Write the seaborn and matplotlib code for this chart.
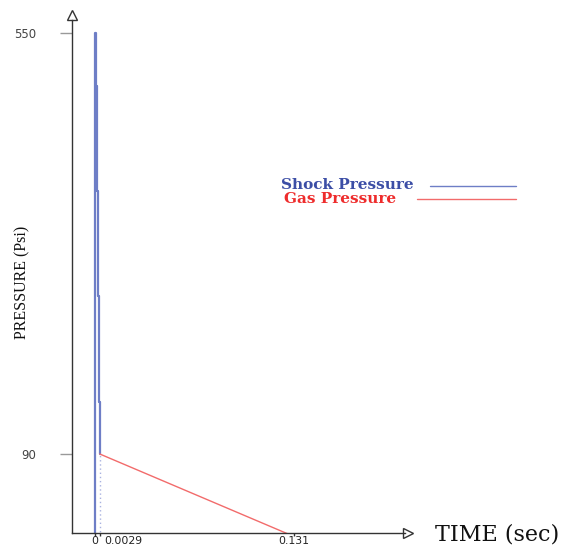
import numpy as np
import pandas as pd
import matplotlib
matplotlib.use("Agg")
import matplotlib.pyplot as plt
from matplotlib.lines import Line2D
from matplotlib.transforms import ScaledTranslation
import seaborn as sns

sns.set_style("white")

# shock pressure: decays in steps from 550 psi down to 90 psi by t = 0.0029 s
shock_time = [0.0, 0.0, 0.0003, 0.0003, 0.0008, 0.0008, 0.0016, 0.0016, 0.0024, 0.0024, 0.0029, 0.0029]
shock_psi = [0, 550, 550, 492, 492, 377, 377, 263, 263, 147, 147, 90]

# gas pressure: linear decay from 90 psi to 0 at t = 0.131 s
gas_time = [0.0029, 0.131]
gas_psi = [90, 0]

xtick_vals = [0, 0.0029, 0.131]
xtick_labels = ["0", "0.0029", "0.131"]
ytick_vals = [90, 550]
ytick_labels = ["90", "550"]

SHOCK = "#6e7ec6"
SHOCK_TXT = "#3c4ea6"
GAS = "#f26b6b"
GAS_TXT = "#ee2c2c"

W, H = 575, 547
fig = plt.figure(figsize=(W / 100, H / 100), dpi=100)
ax = fig.add_axes([72 / W, 1 - 533 / H, (405 - 72) / W, (533 - 20) / H])

shock = pd.DataFrame({"t": shock_time, "p": shock_psi})
gas = pd.DataFrame({"t": gas_time, "p": gas_psi})

sns.lineplot(data=shock, x="t", y="p", sort=False, estimator=None, color=SHOCK, lw=1.6, ax=ax)
sns.lineplot(data=gas, x="t", y="p", sort=False, estimator=None, color=GAS, lw=1.0, ax=ax)
# dotted drop line under the end of the shock phase
ax.plot([gas_time[0], gas_time[0]], [0, gas_psi[0]], color="#a9b2e0", lw=1.0, ls=(0, (1, 2)))

ax.set_xlim(-0.0155, 0.2045)
ax.set_ylim(3.7, 564.3)

for s in ["top", "right"]:
    ax.spines[s].set_visible(False)
for s in ["left", "bottom"]:
    ax.spines[s].set_color("#333333")
    ax.spines[s].set_linewidth(1.0)

ax.set_xticks(xtick_vals)
ax.set_xticklabels(xtick_labels)
ax.set_yticks(ytick_vals)
ax.set_yticklabels(ytick_labels)
ax.tick_params(axis="y", length=9, width=1, color="#999999", labelsize=8.5, labelcolor="#444444", pad=17,
               left=True)
ax.tick_params(axis="x", length=2, width=1, color="#333333", labelsize=7.8, labelcolor="#222222", pad=0.5,
               bottom=True)
for lab in ax.get_xticklabels() + ax.get_yticklabels():
    lab.set_fontfamily("DejaVu Sans")
xl = ax.get_xticklabels()
xl[0].set_horizontalalignment("right")
xl[0].set_transform(xl[0].get_transform() + ScaledTranslation(2.5 / 100, 0, fig.dpi_scale_trans))
xl[1].set_horizontalalignment("left")
xl[1].set_transform(xl[1].get_transform() + ScaledTranslation(4 / 100, 0, fig.dpi_scale_trans))
ax.set_xlabel("")
ax.set_ylabel("")

# hollow arrow heads at the end of each axis
ax.plot(0, 1.01, marker="^", ms=7, mfc="white", mec="#333333", mew=1, transform=ax.transAxes, clip_on=False)
ax.plot(1.01, 0, marker=">", ms=7, mfc="white", mec="#333333", mew=1, transform=ax.transAxes, clip_on=False)

fig.text(435 / W, 1 - 535 / H, "TIME (sec)", family="DejaVu Serif", fontsize=16, color="#111111",
         ha="left", va="center")
fig.text(22 / W, 1 - 282 / H, "PRESSURE (Psi)", family="Liberation Serif", fontsize=11.5, color="#111111",
         rotation=90, ha="center", va="center")

# legend drawn as coloured text with line samples
fig.text(281 / W, 1 - 185 / H, "Shock Pressure", family="DejaVu Serif", fontweight="bold", fontsize=11,
         color=SHOCK_TXT, ha="left", va="center")
fig.text(284 / W, 1 - 199 / H, "Gas Pressure", family="DejaVu Serif", fontweight="bold", fontsize=11,
         color=GAS_TXT, ha="left", va="center")
fig.add_artist(Line2D([430 / W, 516 / W], [1 - 186 / H, 1 - 186 / H], color=SHOCK, lw=1))
fig.add_artist(Line2D([417 / W, 516 / W], [1 - 199 / H, 1 - 199 / H], color=GAS, lw=1))

fig.savefig("out.png", dpi=100)
